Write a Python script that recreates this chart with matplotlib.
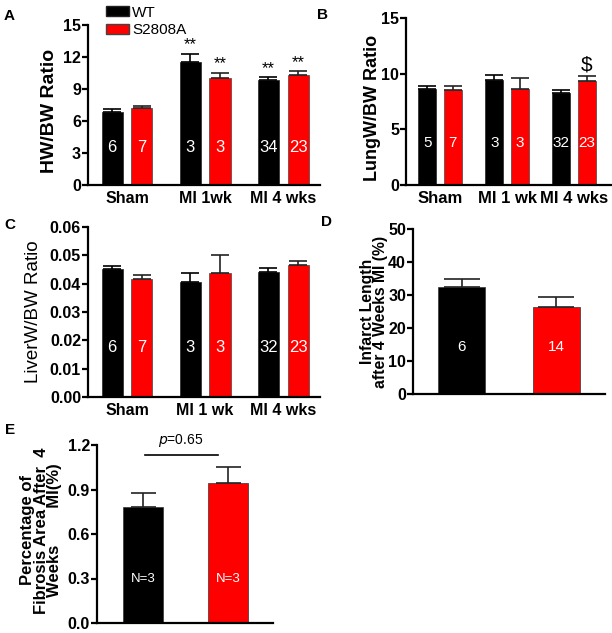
import matplotlib
matplotlib.use("Agg")
import matplotlib.pyplot as plt
from matplotlib.patches import Patch

plt.rcParams.update({
    "font.family": ["Liberation Sans", "DejaVu Sans"],
    "axes.linewidth": 1.6,
    "xtick.major.width": 1.6,
    "ytick.major.width": 1.6,
    "ytick.major.size": 4,
    "xtick.major.size": 4,
})

WT_C = "#000000"
MUT_C = "#ff0000"
W, H = 612, 633

# ---- data ----
groups_a = ["Sham", "MI 1wk", "MI 4 wks"]
groups_bc = ["Sham", "MI 1 wk", "MI 4 wks"]

hw_wt = [6.85, 11.5, 9.8]
hw_wt_err = [0.3, 0.8, 0.3]
hw_mut = [7.2, 10.0, 10.3]
hw_mut_err = [0.2, 0.5, 0.35]
hw_n_wt = ["6", "3", "34"]
hw_n_mut = ["7", "3", "23"]
hw_stars_wt = ["", "**", "**"]
hw_stars_mut = ["", "**", "**"]

lung_wt = [8.6, 9.4, 8.3]
lung_wt_err = [0.3, 0.5, 0.25]
lung_mut = [8.55, 8.6, 9.35]
lung_mut_err = [0.3, 1.0, 0.45]
lung_n_wt = ["5", "3", "32"]
lung_n_mut = ["7", "3", "23"]

liver_wt = [0.0452, 0.0406, 0.0441]
liver_wt_err = [0.001, 0.003, 0.0014]
liver_mut = [0.0416, 0.0438, 0.0466]
liver_mut_err = [0.0013, 0.0062, 0.0015]
liver_n_wt = ["6", "3", "32"]
liver_n_mut = ["7", "3", "23"]

infarct = [32.4, 26.4]
infarct_err = [2.4, 3.0]
infarct_n = ["6", "14"]

fibrosis = [0.78, 0.945]
fibrosis_err = [0.095, 0.11]
fibrosis_n = ["N=3", "N=3"]

fig = plt.figure(figsize=(W / 100, H / 100), dpi=100)


def make_ax(x0, x1, y0, y1):
    return fig.add_axes([x0 / W, 1 - y1 / H, (x1 - x0) / W, (y1 - y0) / H])


def style(ax):
    for s in ("top", "right"):
        ax.spines[s].set_visible(False)
    for lab in ax.get_yticklabels():
        lab.set_fontweight("bold")
    ax.tick_params(axis="y", labelsize=11.5, pad=1)


def grouped(ax, wt, wt_err, mut, mut_err, n_wt, n_mut, ny, fs_n=11):
    x = range(len(wt))
    off, bw = 0.19, 0.27
    xw = [i - off for i in x]
    xm = [i + off for i in x]
    ax.bar(xw, wt, bw, color=WT_C, edgecolor="#222222", linewidth=0.5)
    ax.bar(xm, mut, bw, color=MUT_C, edgecolor="#444444", linewidth=0.5)
    ax.errorbar(xw, wt, yerr=[[0] * len(wt), wt_err], fmt="none", ecolor="black",
                elinewidth=1.2, capsize=6.5, capthick=1.2)
    ax.errorbar(xm, mut, yerr=[[0] * len(mut), mut_err], fmt="none", ecolor="#222222",
                elinewidth=1.2, capsize=6.5, capthick=1.2)
    for xi, t in zip(xw, n_wt):
        ax.text(xi, ny, t, color="white", ha="center", va="center", fontsize=fs_n)
    for xi, t in zip(xm, n_mut):
        ax.text(xi, ny, t, color="white", ha="center", va="center", fontsize=fs_n)
    return xw, xm


# ---- A ----
axA = make_ax(88, 320, 25, 185)
xw, xm = grouped(axA, hw_wt, hw_wt_err, hw_mut, hw_mut_err, hw_n_wt, hw_n_mut, 3.5, 12)
for xs, v, e, st in ((xw, hw_wt, hw_wt_err, hw_stars_wt), (xm, hw_mut, hw_mut_err, hw_stars_mut)):
    for xi, vi, ei, s in zip(xs, v, e, st):
        if s:
            axA.annotate(s, (xi, vi + ei), textcoords="offset points", xytext=(0, 1),
                         ha="center", va="bottom", fontsize=12)
axA.set_ylim(0, 15)
axA.set_yticks([0, 3, 6, 9, 12, 15])
axA.set_xlim(-0.5, 2.47)
axA.set_xticks(range(3))
axA.set_xticklabels(groups_a, fontsize=11.5, fontweight="bold")
axA.tick_params(axis="x", length=0, pad=4)
axA.set_ylabel("HW/BW Ratio", fontsize=14, fontweight="bold")
axA.yaxis.set_label_coords(-0.13, 0.46)
style(axA)

# ---- B ----
axB = make_ax(406, 611, 18, 185)
xw, xm = grouped(axB, lung_wt, lung_wt_err, lung_mut, lung_mut_err, lung_n_wt, lung_n_mut, 3.8)
axB.annotate("$", (xm[2], lung_mut[2] + lung_mut_err[2]), textcoords="offset points",
             xytext=(0, 1), ha="center", va="bottom", fontsize=15)
axB.set_ylim(0, 15)
axB.set_yticks([0, 5, 10, 15])
axB.set_xlim(-0.51, 2.55)
axB.set_xticks(range(3))
axB.set_xticklabels(groups_bc, fontsize=12, fontweight="bold")
axB.tick_params(axis="x", length=0, pad=4)
axB.set_ylabel("LungW/BW Ratio", fontsize=13, fontweight="bold")
axB.yaxis.set_label_coords(-0.12, 0.46)
style(axB)

# ---- C ----
axC = make_ax(88, 320, 227, 397)
grouped(axC, liver_wt, liver_wt_err, liver_mut, liver_mut_err, liver_n_wt, liver_n_mut, 0.0173, 12)
axC.set_ylim(0, 0.06)
axC.set_yticks([0.0, 0.01, 0.02, 0.03, 0.04, 0.05, 0.06])
axC.set_yticklabels([f"{v:.2f}" for v in axC.get_yticks()])
axC.set_xlim(-0.5, 2.47)
axC.set_xticks(range(3))
axC.set_xticklabels(groups_bc, fontsize=11.5, fontweight="bold")
axC.tick_params(axis="x", length=0, pad=4)
axC.set_ylabel("LiverW/BW Ratio", fontsize=13.5)
axC.yaxis.set_label_coords(-0.2, 0.5)
style(axC)

# ---- D ----
axD = make_ax(413, 605, 229, 394)
axD.bar([0, 1], infarct, 0.5, color=[WT_C, MUT_C], edgecolor="#333333", linewidth=0.5)
axD.errorbar([0, 1], infarct, yerr=[[0, 0], infarct_err], fmt="none", ecolor="#222222",
             elinewidth=1.2, capsize=13, capthick=1.2)
for xi, t in zip([0, 1], infarct_n):
    axD.text(xi, 14.2, t, color="white", ha="center", va="center", fontsize=11)
axD.set_ylim(0, 50)
axD.set_yticks([0, 10, 20, 30, 40, 50])
axD.set_xlim(-0.52, 1.52)
axD.set_xticks([])
axD.set_ylabel("Infarct Length\nafter 4 Weeks MI (%)", fontsize=11.3, fontweight="bold",
               linespacing=0.85)
axD.yaxis.set_label_coords(-0.13, 0.5)
style(axD)

# ---- E ----
axE = make_ax(97, 273, 445, 623)
axE.bar([0, 1], fibrosis, 0.48, color=[WT_C, MUT_C], edgecolor="#333333", linewidth=0.5)
axE.errorbar([0, 1], fibrosis, yerr=[[0, 0], fibrosis_err], fmt="none", ecolor="#222222",
             elinewidth=1.2, capsize=9, capthick=1.2)
for xi, t in zip([0, 1], fibrosis_n):
    axE.text(xi, 0.30, t, color="white", ha="center", va="center", fontsize=9.5)
axE.plot([0.02, 0.88], [1.135, 1.135], color="black", linewidth=1.2)
axE.text(0.45, 1.17, "$\\it{p}$=0.65", ha="center", va="bottom", fontsize=10)
axE.set_ylim(0, 1.2)
axE.set_yticks([0.0, 0.3, 0.6, 0.9, 1.2])
axE.set_xlim(-0.54, 1.53)
axE.set_xticks([])
axE.set_ylabel("Percentage of\nFibrosis Area After  4\nWeeks        MI(%)", fontsize=12,
               fontweight="bold", linespacing=0.85)
axE.yaxis.set_label_coords(-0.2, 0.52)
style(axE)

# ---- legend ----
handles = [Patch(facecolor=WT_C, edgecolor="#222222", label="WT"),
           Patch(facecolor=MUT_C, edgecolor="#444444", label="S2808A")]
fig.legend(handles=handles, loc="upper left", bbox_to_anchor=(98 / W, 1 + 2 / H),
           frameon=False, fontsize=11, handlelength=1.55, handleheight=0.6,
           handletextpad=0.2, labelspacing=0.25, borderaxespad=0.1)

# ---- panel letters ----
for letter, (px, py) in {"A": (9, 16), "B": (322, 15), "C": (10, 225),
                         "D": (326, 222), "E": (10, 430)}.items():
    fig.text(px / W, 1 - py / H, letter, fontsize=11, fontweight="bold",
             ha="center", va="center")

fig.savefig("out.png", dpi=100, facecolor="white")
